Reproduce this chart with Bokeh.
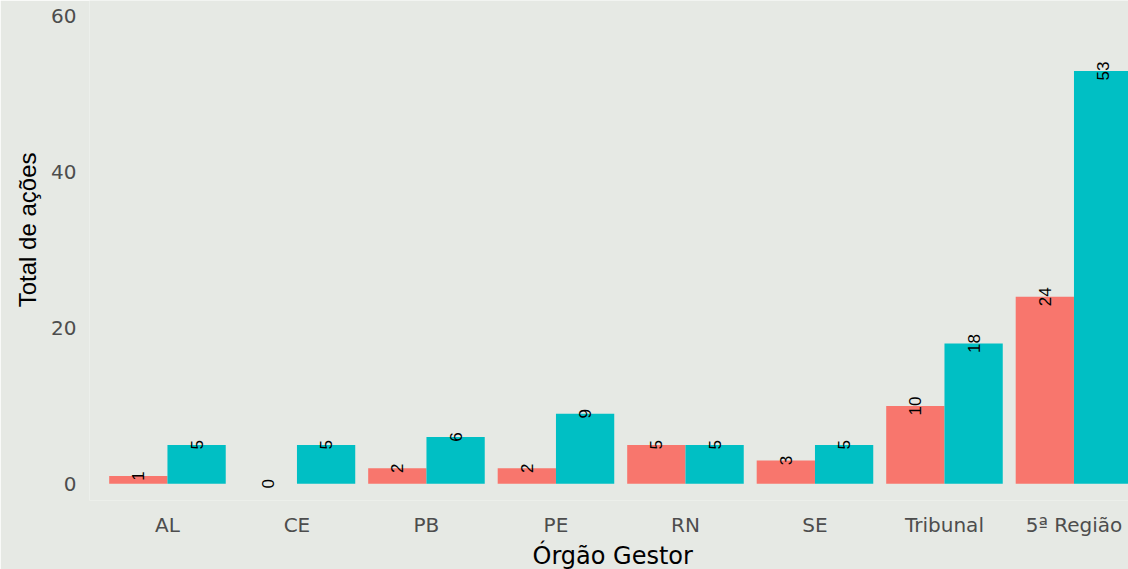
from bokeh.plotting import figure
from bokeh.models import ColumnDataSource, Range1d, FixedTicker, Title
from bokeh.transform import dodge
from bokeh.core.properties import value
from bokeh.embed import file_html
from bokeh.resources import INLINE
import math

categories = ["AL", "CE", "PB", "PE", "RN", "SE", "Tribunal", "5ª Região"]
serie_a = [1, 0, 2, 2, 5, 3, 10, 24]
serie_b = [5, 5, 6, 9, 5, 5, 18, 53]
y_ticks = [0, 20, 40, 60]

RED = "#F8766D"
TEAL = "#00BFC4"
BG = "#E6E9E4"

xs = list(range(1, len(categories) + 1))
src = ColumnDataSource(dict(
    x=xs, a=serie_a, b=serie_b,
    la=[str(v) for v in serie_a], lb=[str(v) for v in serie_b],
))

p = figure(width=1128, height=569, output_backend="svg", toolbar_location=None,
           x_range=Range1d(0.398, 8.421), y_range=Range1d(-2.14, 62.04),
           min_border_left=89, min_border_right=0, min_border_top=0,
           min_border_bottom=62)

p.background_fill_color = BG
p.border_fill_color = BG
p.outline_line_color = None
p.grid.visible = False

w = 0.45
p.vbar(x=dodge("x", -w / 2), top="a", width=w, bottom=0, source=src,
       fill_color=RED, line_color=None)
p.vbar(x=dodge("x", w / 2), top="b", width=w, bottom=0, source=src,
       fill_color=TEAL, line_color=None)

for ycol, tcol, off in (("a", "la", -w / 2), ("b", "lb", w / 2)):
    p.text(x=dodge("x", off), y=ycol, text=tcol, source=src, angle=math.pi / 2,
           text_align="center", text_baseline="middle",
           text_font=value("Liberation Sans"), text_font_size="17px",
           text_color="black")

# x axis
p.xaxis.ticker = FixedTicker(ticks=xs)
p.xaxis.major_label_overrides = {i: c for i, c in zip(xs, categories)}
p.xaxis.major_label_text_font = "DejaVu Sans"
p.xaxis.major_label_text_font_size = "20px"
p.xaxis.major_label_text_color = "#4D4D4D"
p.xaxis.major_label_standoff = 6
p.xaxis.axis_line_color = None
p.xaxis.major_tick_line_color = None
p.xaxis.minor_tick_line_color = None

# y axis
p.yaxis.ticker = FixedTicker(ticks=y_ticks)
p.yaxis.major_label_text_font = "DejaVu Sans"
p.yaxis.major_label_text_font_size = "20px"
p.yaxis.major_label_text_color = "#4D4D4D"
p.yaxis.major_label_standoff = 7
p.yaxis.axis_line_color = None
p.yaxis.major_tick_line_color = None
p.yaxis.minor_tick_line_color = None

# axis titles as side titles
p.add_layout(Title(text="Órgão Gestor", align="left", offset=443,
                   standoff=0, text_font="DejaVu Sans",
                   text_font_size="24px", text_font_style="normal",
                   text_color="black"), "below")
p.add_layout(Title(text="Total de ações", align="right", offset=152,
                   standoff=16, text_font="Liberation Sans",
                   text_font_size="24px", text_font_style="normal",
                   text_color="black"), "left")

html = file_html(p, INLINE)
html = html.replace("<body>", "<body style=\"background-color: %s;\">" % BG, 1)
open("out.html", "w").write(html)
